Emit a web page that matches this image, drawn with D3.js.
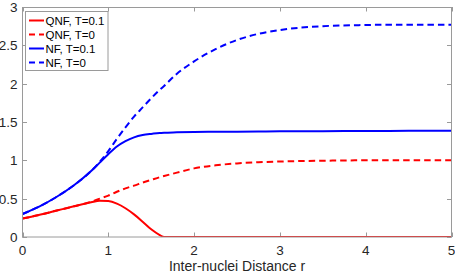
<!DOCTYPE html>
<html>
<head>
<meta charset="utf-8">
<script src="https://cdn.jsdelivr.net/npm/d3@7"></script>
<style>
body { margin: 0; background: #fff; }
text { font-family: "Liberation Sans", Arial, sans-serif; }
</style>
</head>
<body>
<svg width="455" height="276"></svg>
<script>
// distance values (shared by all series)
var r = [0, 0.2, 0.4, 0.6, 0.8, 0.9, 1.0, 1.1, 1.2, 1.3, 1.4, 1.5, 1.6, 1.65, 1.8, 2, 2.25, 2.5, 2.75, 3, 3.5, 4, 4.5, 5];

var qnfT01 = [0.24, 0.29, 0.345, 0.40, 0.452, 0.472, 0.468, 0.435, 0.375, 0.295, 0.2, 0.1, 0.025, 0, 0, 0, 0, 0, 0, 0, 0, 0, 0, 0];
var qnfT0  = [0.24, 0.29, 0.345, 0.40, 0.46, 0.50, 0.54, 0.59, 0.635, 0.67, 0.71, 0.745, 0.78, 0.795, 0.84, 0.895, 0.935, 0.96, 0.975, 0.985, 0.995, 1.0, 1.0, 1.0];
var nfT01  = [0.30, 0.40, 0.525, 0.675, 0.86, 0.97, 1.08, 1.18, 1.25, 1.30, 1.33, 1.345, 1.355, 1.36, 1.365, 1.37, 1.372, 1.374, 1.376, 1.378, 1.38, 1.383, 1.385, 1.387];
var nfT0   = [0.30, 0.40, 0.525, 0.675, 0.86, 0.98, 1.12, 1.28, 1.43, 1.57, 1.69, 1.81, 1.92, 1.97, 2.13, 2.29, 2.45, 2.57, 2.65, 2.70, 2.75, 2.765, 2.77, 2.77];

var seriesNames = ["QNF, T=0.1", "QNF, T=0", "NF, T=0.1", "NF, T=0"];
var seriesValues = [qnfT01, qnfT0, nfT01, nfT0];
var seriesColors = ["#ff0000", "#ff0000", "#0000ff", "#0000ff"];
var seriesDashed = [false, true, false, true];

var xTicks = [0, 1, 2, 3, 4, 5];
var yTicks = [0, 0.5, 1, 1.5, 2, 2.5, 3];

var svg = d3.select("svg");
var pLeft = 22.5, pRight = 451.5, pTop = 7, pBottom = 237;

var x = d3.scaleLinear().domain([0, 5]).range([pLeft, pRight]);
var y = d3.scaleLinear().domain([0, 3]).range([pBottom, pTop]);

var axisColor = "#9a9a9a";
var tickLen = 4.5;

// ticks on all four sides, pointing inward
var tg = svg.append("g").attr("stroke", axisColor).attr("stroke-width", 1);
xTicks.forEach(function(t) {
  var px = Math.round(x(t)) + 0.5;
  tg.append("line").attr("x1", px).attr("x2", px).attr("y1", pBottom).attr("y2", pBottom - tickLen);
  tg.append("line").attr("x1", px).attr("x2", px).attr("y1", pTop).attr("y2", pTop + tickLen);
});
yTicks.forEach(function(t) {
  var py = Math.round(y(t)) + 0.5;
  tg.append("line").attr("x1", pLeft).attr("x2", pLeft + tickLen).attr("y1", py).attr("y2", py);
  tg.append("line").attr("x1", pRight).attr("x2", pRight - tickLen).attr("y1", py).attr("y2", py);
});

// tick labels
svg.append("g").selectAll("text").data(xTicks).enter().append("text")
  .attr("x", function(d) { return x(d); })
  .attr("y", 255)
  .attr("text-anchor", "middle")
  .attr("font-size", 13.5)
  .attr("fill", "#262626")
  .text(function(d) { return d; });

svg.append("g").selectAll("text").data(yTicks).enter().append("text")
  .attr("x", 17.5)
  .attr("y", function(d) { return y(d) + 5; })
  .attr("text-anchor", "end")
  .attr("font-size", 13.5)
  .attr("fill", "#262626")
  .text(function(d) { return d; });

svg.append("text")
  .attr("x", (pLeft + pRight) / 2)
  .attr("y", 271)
  .attr("text-anchor", "middle")
  .attr("font-size", 14)
  .attr("fill", "#262626")
  .text("Inter-nuclei Distance r");

// curves
var line = d3.line()
  .x(function(d, i) { return x(r[i]); })
  .y(function(d) { return y(d); })
  .curve(d3.curveMonotoneX);

svg.append("clipPath").attr("id", "clip")
  .append("rect").attr("x", pLeft).attr("y", pTop).attr("width", pRight - pLeft).attr("height", pBottom - pTop);

svg.append("g").attr("clip-path", "url(#clip)")
  .selectAll("path").data(seriesValues).enter().append("path")
  .attr("d", function(d) { return line(d); })
  .attr("fill", "none")
  .attr("stroke", function(d, i) { return seriesColors[i]; })
  .attr("stroke-width", 2)
  .attr("stroke-dasharray", function(d, i) { return seriesDashed[i] ? "6.5,4" : null; });

// box
svg.append("rect")
  .attr("x", pLeft).attr("y", pTop + 0.5)
  .attr("width", pRight - pLeft).attr("height", pBottom - pTop - 0.5)
  .attr("fill", "none").attr("stroke", axisColor).attr("stroke-width", 1);

// legend
var lg = svg.append("g");
lg.append("rect")
  .attr("x", 25.5).attr("y", 11.5).attr("width", 82.5).attr("height", 59)
  .attr("fill", "#fff").attr("stroke", axisColor).attr("stroke-width", 1);

var rows = lg.selectAll("g.row").data(seriesNames).enter().append("g")
  .attr("class", "row")
  .attr("transform", function(d, i) { return "translate(0," + (20.5 + i * 14) + ")"; });

rows.append("line")
  .attr("x1", 29).attr("x2", 44).attr("y1", 0).attr("y2", 0)
  .attr("stroke", function(d, i) { return seriesColors[i]; })
  .attr("stroke-width", 2)
  .attr("stroke-dasharray", function(d, i) { return seriesDashed[i] ? "6,4" : null; });

rows.append("text")
  .attr("x", 45.5).attr("y", 4.2)
  .attr("font-size", 11.5)
  .attr("fill", "#000")
  .text(function(d) { return d; });
</script>
</body>
</html>
